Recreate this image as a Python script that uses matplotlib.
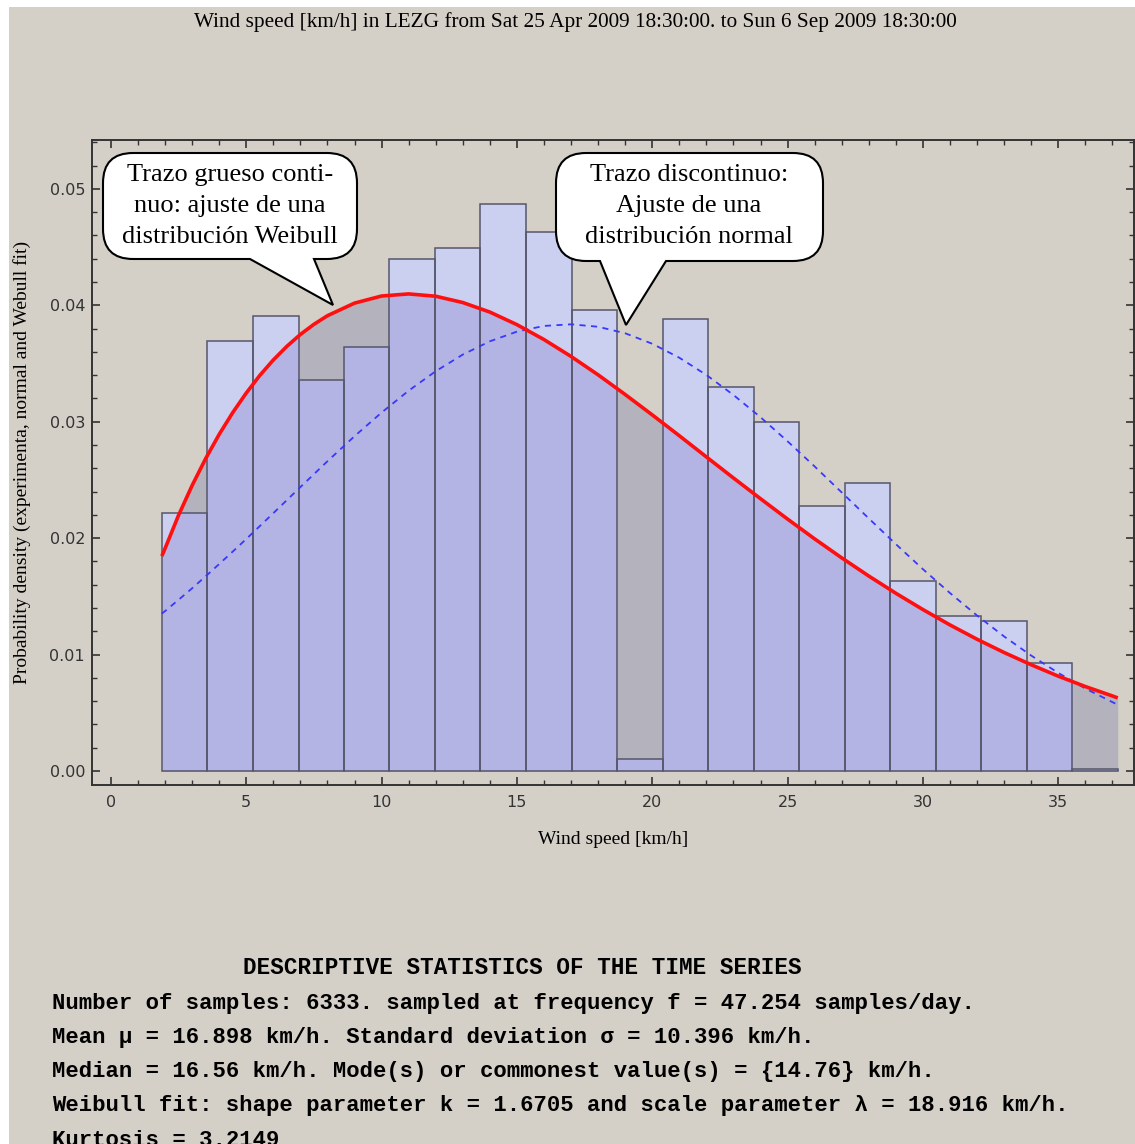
import matplotlib
matplotlib.use("Agg")
import matplotlib.pyplot as plt
from matplotlib.patches import Rectangle, PathPatch
from matplotlib.path import Path
from matplotlib.ticker import MultipleLocator

# histogram of wind speed (km/h), probability density
bin_edges = [1.88, 3.56, 5.24, 6.93, 8.61, 10.29, 11.97, 13.65, 15.34, 17.02, 18.70,
             20.38, 22.06, 23.75, 25.43, 27.11, 28.79, 30.47, 32.16, 33.84, 35.52, 37.20]
density = [0.0222, 0.0369, 0.0391, 0.0336, 0.0364, 0.0440, 0.0449, 0.0487, 0.0463, 0.0396,
           0.0010, 0.0388, 0.0330, 0.0300, 0.0228, 0.0247, 0.0163, 0.0133, 0.0129, 0.0093, 0.0002]

# fitted curves
speed = [1.88, 2, 2.5, 3, 3.5, 4, 4.5, 5, 5.5, 6, 6.5, 7, 7.5, 8, 9, 10, 11, 12, 13, 14,
         15, 16, 17, 18, 19, 20, 21, 22, 23, 24, 25, 26, 27, 28, 29, 30, 31, 32, 33, 34,
         35, 36, 37, 37.2]
weibull = [0.01846, 0.01912, 0.02198, 0.02453, 0.02684, 0.02892, 0.03079, 0.03247, 0.03398,
           0.03531, 0.03648, 0.03750, 0.03837, 0.03911, 0.04019, 0.04080, 0.04098, 0.04078,
           0.04024, 0.03942, 0.03834, 0.03706, 0.03561, 0.03403, 0.03234, 0.03059, 0.02880,
           0.02698, 0.02517, 0.02339, 0.02164, 0.01994, 0.01831, 0.01675, 0.01527, 0.01387,
           0.01255, 0.01132, 0.01018, 0.00913, 0.00815, 0.00726, 0.00645, 0.00628]
normal = [0.01352, 0.01374, 0.01471, 0.01570, 0.01673, 0.01778, 0.01885, 0.01993, 0.02104,
          0.02215, 0.02327, 0.02439, 0.02550, 0.02661, 0.02876, 0.03079, 0.03267, 0.03434,
          0.03577, 0.03691, 0.03774, 0.03823, 0.03837, 0.03816, 0.03760, 0.03670, 0.03550,
          0.03402, 0.03230, 0.03039, 0.02832, 0.02616, 0.02393, 0.02170, 0.01949, 0.01734,
          0.01529, 0.01336, 0.01156, 0.00992, 0.00843, 0.00709, 0.00592, 0.00570]

title = "Wind speed [km/h] in LEZG from Sat 25 Apr 2009 18:30:00. to Sun 6 Sep 2009 18:30:00"
stats_title = "DESCRIPTIVE STATISTICS OF THE TIME SERIES"
stats_lines = [
    "Number of samples: 6333. sampled at frequency f = 47.254 samples/day.",
    "Mean \u03bc = 16.898 km/h. Standard deviation \u03c3 = 10.396 km/h.",
    "Median = 16.56 km/h. Mode(s) or commonest value(s) = {14.76} km/h.",
    "Weibull fit: shape parameter k = 1.6705 and scale parameter \u03bb = 18.916 km/h.",
    "Kurtosis = 3.2149",
]
callout_weibull = "Trazo grueso conti-\nnuo: ajuste de una\ndistribución Weibull"
callout_normal = "Trazo discontinuo:\nAjuste de una\ndistribución normal"

W, H = 1135, 1144
BG = "#d4d0c8"
LIGHT = "#cbd0f0"
DARK = "#b3b4e3"
GRAY = "#b4b2bd"
EDGE = "#56566c"


def px(x, y):
    return x / W, 1 - y / H


fig = plt.figure(figsize=(W / 100, H / 100), dpi=100, facecolor="white")
fig.add_artist(Rectangle(px(9, H), 1, 1 - 7 / H, transform=fig.transFigure,
                         facecolor=BG, edgecolor="none", zorder=-10))

l, b = px(92, 785)
r, t = px(1134, 140)
ax = fig.add_axes([l, b, r - l, t - b])
ax.set_facecolor(BG)

widths = [bin_edges[i + 1] - bin_edges[i] for i in range(len(density))]

# weibull filling (over the background it shows grey)
ax.fill_between(speed, 0, weibull, color=GRAY, lw=0, zorder=1)
bars = ax.bar(bin_edges[:-1], density, widths, align="edge", color=LIGHT,
              edgecolor="none", zorder=2)
for bar in bars:
    fb = ax.fill_between(speed, 0, weibull, color=DARK, lw=0, zorder=3)
    fb.set_clip_path(bar)
ax.bar(bin_edges[:-1], density, widths, align="edge", facecolor="none",
       edgecolor=EDGE, lw=1.1, zorder=4)

ax.plot(speed, normal, color="#3838ff", lw=1.3, dashes=(3.4, 3.0), zorder=5)
ax.plot(speed, weibull, color="#ff1010", lw=2.6, zorder=6, solid_capstyle="butt")

ax.set_xlim(-0.70, 37.80)
ax.set_ylim(-0.0012, 0.0542)
ax.xaxis.set_major_locator(MultipleLocator(5))
ax.xaxis.set_minor_locator(MultipleLocator(1))
ax.yaxis.set_major_locator(MultipleLocator(0.01))
ax.yaxis.set_minor_locator(MultipleLocator(0.002))
ax.yaxis.set_major_formatter(matplotlib.ticker.FormatStrFormatter("%.2f"))
ax.tick_params(which="both", direction="in", top=True, right=True, color="#333333",
               labelsize=11.5, labelcolor="#333333")
ax.tick_params(which="major", length=6, width=1.2)
ax.tick_params(which="minor", length=3.5, width=1.0)
ax.tick_params(axis="x", pad=7)
ax.tick_params(axis="y", pad=5)
for sp in ax.spines.values():
    sp.set_color("#333333")
    sp.set_linewidth(1.4)

serif = ["Liberation Serif", "DejaVu Serif"]
fig.text(*px(575, 22), title, ha="center", va="center", fontsize=15.3, family=serif)
fig.text(*px(613, 840), "Wind speed [km/h]", ha="center", va="center", fontsize=14,
         family=serif)
fig.text(*px(22, 462), "Probability density (experimenta, normal and Webull fit)",
         ha="center", va="center", rotation=90, fontsize=14, family=serif)


def balloon(x0, y0, x1, y1, base_l, base_r, tip, rad=30):
    pts = [(x0 + rad, y0), (x1 - rad, y0), (x1, y0), (x1, y0 + rad),
           (x1, y1 - rad), (x1, y1), (x1 - rad, y1),
           (base_r, y1), tip, (base_l, y1),
           (x0 + rad, y1), (x0, y1), (x0, y1 - rad),
           (x0, y0 + rad), (x0, y0), (x0 + rad, y0), (x0 + rad, y0)]
    codes = [Path.MOVETO, Path.LINETO, Path.CURVE3, Path.CURVE3,
             Path.LINETO, Path.CURVE3, Path.CURVE3,
             Path.LINETO, Path.LINETO, Path.LINETO,
             Path.LINETO, Path.CURVE3, Path.CURVE3,
             Path.LINETO, Path.CURVE3, Path.CURVE3, Path.CLOSEPOLY]
    verts = [px(*p) for p in pts]
    fig.add_artist(PathPatch(Path(verts, codes), transform=fig.transFigure,
                             facecolor="white", edgecolor="black", lw=1.5, zorder=10))


balloon(103, 153, 357, 259, 250, 314, (333, 305))
fig.text(*px(230, 206), callout_weibull, ha="center", va="center", fontsize=19,
         family=serif, linespacing=1.55, zorder=11)
balloon(556, 153, 823, 261, 600, 666, (626, 325))
fig.text(*px(689, 206), callout_normal, ha="center", va="center", fontsize=19,
         family=serif, linespacing=1.55, zorder=11)

mono = ["Liberation Mono", "DejaVu Sans Mono"]
fig.text(*px(243, 968), stats_title, ha="left", va="center", fontsize=16.3,
         family=mono, weight="bold")
for i, line in enumerate(stats_lines):
    fig.text(*px(52, 1003 + 34.3 * i), line, ha="left", va="center", fontsize=16.0,
             family=mono, weight="bold")

fig.savefig("out.png", dpi=100, facecolor="white")
